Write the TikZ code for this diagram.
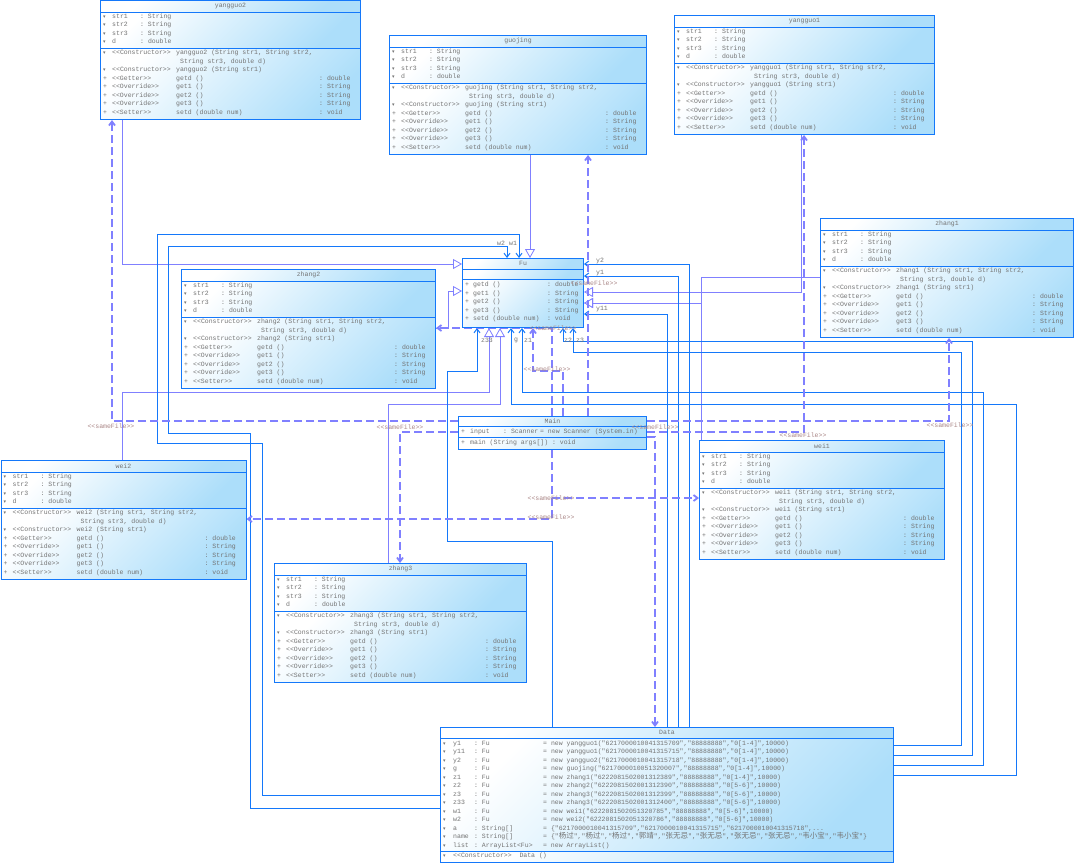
\documentclass[tikz,border=0pt]{standalone}
\usepackage{fontspec}
\setmonofont{Liberation Mono}
\newfontfamily\cjkfont{Noto Sans CJK SC}
\newfontfamily\visfont{DejaVu Sans}
\usetikzlibrary{positioning, arrows.meta, backgrounds, calc}
\pgfdeclarelayer{background}
\pgfsetlayers{background,main}
\definecolor{umlblue}{RGB}{20,120,250}
\definecolor{umlpurple}{RGB}{128,128,255}
\definecolor{umltext}{RGB}{115,115,115}
\definecolor{umlfill}{RGB}{172,222,250}
\definecolor{umlnote}{RGB}{170,135,135}
\newcommand{\classfont}{\ttfamily\fontsize{6.5}{8.5}\selectfont}
\newcommand{\pkgvis}{{\visfont\fontsize{5}{5}\selectfont ▾}}
\newcommand{\cjk}[1]{{\cjkfont\fontsize{7.5}{8.5}\selectfont #1}}
\newcommand{\classattr}[3]{\makebox[9pt][l]{#1}\makebox[28pt][l]{#2}: #3}
\newcommand{\classop}[4]{\makebox[9pt][l]{#1}\makebox[64pt][l]{#2}\makebox[\sigw pt][l]{#3}: #4}
\newcommand{\dataattr}[3]{\makebox[10pt][l]{\pkgvis}\makebox[21pt][l]{#1}\makebox[69pt][l]{: #2}#3}

\begin{document}
\begin{tikzpicture}[
        x=1pt, y=-1pt,
        classbox/.style={draw=umlblue, line width=1pt, anchor=north west, inner sep=0pt},
        section/.style={top color=white, bottom color=umlfill, shading angle=45},
        divider/.style={draw=umlblue, line width=1pt},
        classtitle/.style={font=\classfont, text=umltext, inner sep=0pt},
        classtext/.style={font=\classfont, text=umltext, inner sep=0pt, anchor=north west, align=left},
        gen/.style={draw=umlpurple, line width=0.8pt, -{Triangle[open, length=9pt, width=10pt, fill=white]}},
        assoc/.style={draw=umlblue, line width=1pt, -{Straight Barb[length=4pt, width=6pt]}},
        dep/.style={draw=umlpurple, line width=1.8pt, dash pattern=on 8pt off 4pt, -{Straight Barb[length=4pt, width=6pt]}},
        role/.style={font=\classfont, text=umltext, inner sep=0pt},
        samefile/.style={font=\classfont, text=umlnote, inner sep=0pt}
        ]

        \begin{pgfonlayer}{background}
            \fill[white] (0,0) rectangle (1074,863);
        \end{pgfonlayer}
        \useasboundingbox (0,0) rectangle (1074,863);

        % Subclasses of Fu
        \foreach \cname/\cx/\cy/\cw in {yangguo2/100/0/260, guojing/389/35/257, yangguo1/674/15/260,
                zhang1/820/218/253, zhang2/181/269/254, zhang3/274/563/252, wei1/699/440/245, wei2/0.5/460/245} {
            \pgfmathsetmacro{\sigw}{\cw-117}
            \shade[section] (\cx,\cy) rectangle ++(\cw,12);
            \shade[section] (\cx,{\cy+12}) rectangle ++(\cw,36);
            \shade[section] (\cx,{\cy+48}) rectangle ++(\cw,71);
            \node[classbox, minimum width=\cw pt, minimum height=119pt] (\cname) at (\cx,\cy) {};
            \draw[divider] (\cx,{\cy+12}) -- ++(\cw,0);
            \draw[divider] (\cx,{\cy+48}) -- ++(\cw,0);
            \node[classtitle] (\cname-title) at ([yshift=-6pt]\cname.north) {\cname};
            \node[classtext] (\cname-attrs) at ([xshift=3pt, yshift=-13.5pt]\cname.north west) {
                \classattr{\pkgvis}{str1}{String}\\
                \classattr{\pkgvis}{str2}{String}\\
                \classattr{\pkgvis}{str3}{String}\\
                \classattr{\pkgvis}{d}{double}};
            \node[classtext] (\cname-ops) at ([xshift=3pt, yshift=-50pt]\cname.north west) {
                \makebox[9pt][l]{\pkgvis}\makebox[64pt][l]{<<Constructor>>}\cname{} (String str1, String str2,\\
                \hspace*{77pt}String str3, double d)\\
                \makebox[9pt][l]{\pkgvis}\makebox[64pt][l]{<<Constructor>>}\cname{} (String str1)\\
                \classop{+}{<<Getter>>}{getd ()}{double}\\
                \classop{+}{<<Override>>}{get1 ()}{String}\\
                \classop{+}{<<Override>>}{get2 ()}{String}\\
                \classop{+}{<<Override>>}{get3 ()}{String}\\
                \classop{+}{<<Setter>>}{setd (double num)}{void}};
        }

        % Fu
        \shade[section] (462,258) rectangle ++(121,11);
        \shade[section] (462,269) rectangle ++(121,10);
        \shade[section] (462,279) rectangle ++(121,48);
        \node[classbox, minimum width=121pt, minimum height=69pt] (Fu) at (462,258) {};
        \draw[divider] (462,269) -- ++(121,0);
        \draw[divider] (462,279) -- ++(121,0);
        \node[classtitle] (Fu-title) at ([yshift=-5.5pt]Fu.north) {Fu};
        \node[classtext] (Fu-ops) at ([xshift=3pt, yshift=-24pt]Fu.north west) {
            \makebox[8pt][l]{+}\makebox[74pt][l]{getd ()}: double\\
            \makebox[8pt][l]{+}\makebox[74pt][l]{get1 ()}: String\\
            \makebox[8pt][l]{+}\makebox[74pt][l]{get2 ()}: String\\
            \makebox[8pt][l]{+}\makebox[74pt][l]{get3 ()}: String\\
            \makebox[8pt][l]{+}\makebox[74pt][l]{setd (double num)}: void};

        % Main
        \shade[section] (458,416) rectangle ++(188,10);
        \shade[section] (458,426) rectangle ++(188,11);
        \shade[section] (458,437) rectangle ++(188,12);
        \node[classbox, minimum width=188pt, minimum height=33pt] (Main) at (458,416) {};
        \draw[divider] (458,426) -- ++(188,0);
        \draw[divider] (458,437) -- ++(188,0);
        \node[classtitle] (Main-title) at ([yshift=-5pt]Main.north) {Main};
        \node[classtext] (Main-attrs) at ([xshift=3pt, yshift=-12.5pt]Main.north west) {
            \makebox[9pt][l]{+}\makebox[33pt][l]{input}\makebox[37pt][l]{: Scanner}= new Scanner (System.in)};
        \node[classtext] (Main-ops) at ([xshift=3pt, yshift=-24pt]Main.north west) {
            \makebox[9pt][l]{+}main (String args[]) : void};

        % Data
        \shade[section] (440,727) rectangle ++(453,11);
        \shade[section] (440,738) rectangle ++(453,113);
        \shade[section] (440,851) rectangle ++(453,11.5);
        \node[classbox, minimum width=453pt, minimum height=135pt] (Data) at (440,727) {};
        \draw[divider] (440,738) -- ++(453,0);
        \draw[divider] (440,851) -- ++(453,0);
        \node[classtitle] (Data-title) at ([yshift=-5.5pt]Data.north) {Data};
        \node[classtext] (Data-attrs) at ([xshift=3pt, yshift=-13.5pt]Data.north west) {
            \dataattr{y1}{Fu}{= new yangguo1("6217000010041315709","88888888","0[1-4]",10000)}\\
            \dataattr{y11}{Fu}{= new yangguo1("6217000010041315715","88888888","0[1-4]",10000)}\\
            \dataattr{y2}{Fu}{= new yangguo2("6217000010041315718","88888888","0[1-4]",10000)}\\
            \dataattr{g}{Fu}{= new guojing("6217000010051320007","88888888","0[1-4]",10000)}\\
            \dataattr{z1}{Fu}{= new zhang1("6222081502001312389","88888888","0[1-4]",10000)}\\
            \dataattr{z2}{Fu}{= new zhang2("6222081502001312390","88888888","0[5-6]",10000)}\\
            \dataattr{z3}{Fu}{= new zhang3("6222081502001312399","88888888","0[5-6]",10000)}\\
            \dataattr{z33}{Fu}{= new zhang3("6222081502001312400","88888888","0[5-6]",10000)}\\
            \dataattr{w1}{Fu}{= new wei1("6222081502051320785","88888888","0[5-6]",10000)}\\
            \dataattr{w2}{Fu}{= new wei2("6222081502051320786","88888888","0[5-6]",10000)}\\
            \dataattr{a}{String[]}{= \{"6217000010041315709","6217000010041315715","6217000010041315718",...}\\
            \dataattr{name}{String[]}{= \{"\cjk{杨过}","\cjk{杨过}","\cjk{杨过}","\cjk{郭靖}","\cjk{张无忌}","\cjk{张无忌}","\cjk{张无忌}","\cjk{张无忌}","\cjk{韦小宝}","\cjk{韦小宝}"\}}\\
            \dataattr{list}{ArrayList<Fu>}{= new ArrayList()}};
        \node[classtext] (Data-ops) at ([xshift=3pt, yshift=-126pt]Data.north west) {
            \makebox[10pt][l]{\pkgvis}<<Constructor>>~~Data ()};

        \begin{pgfonlayer}{background}
            % Generalizations to Fu
            \draw[gen] (yangguo2.south -| 122,0) |- (Fu.west |- 0,264);
            \draw[gen] (zhang2.east |- 0,328) -| (448,291) -- (Fu.west |- 0,291);
            \draw[gen] (guojing.south -| 530,0) -- (Fu.north -| 530,0);
            \draw[gen] (yangguo1.south -| 801,0) |- (Fu.east |- 0,292);
            \draw[gen] (zhang1.west |- 0,277) -| (701,303) -- (Fu.east |- 0,303);
            \draw[gen] (wei1.north -| 701,0) |- (Fu.east |- 0,303);
            \draw[gen] (zhang3.north -| 388,0) |- (500,404) -- (Fu.south -| 500,0);
            \draw[gen] (wei2.north -| 122,0) |- (489,392) -- (Fu.south -| 489,0);

            % Associations from Data
            \draw[assoc] (Data.north -| 667,0) |- (Fu.east |- 0,314);
            \draw[assoc] (Data.north -| 678,0) |- (Fu.east |- 0,276);
            \draw[assoc] (Data.north -| 689,0) |- (Fu.east |- 0,264);
            \draw[assoc] (Data.north -| 552,0) |- (447,541) |- (477,371) -- (Fu.south -| 477,0);
            \draw[assoc] (Data.east |- 0,775) -| (1016,404) -| (Fu.south -| 511,0);
            \draw[assoc] (Data.east |- 0,765) -| (983,392) -| (Fu.south -| 522,0);
            \draw[assoc] (Data.east |- 0,755) -| (972,341) -| (Fu.south -| 563,0);
            \draw[assoc] (Data.east |- 0,745) -| (961,352) -| (Fu.south -| 573,0);
            \draw[assoc] (Data.west |- 0,795) -| (262,443) -| (157,234) -| (Fu.north -| 519,0);
            \draw[assoc] (Data.west |- 0,808) -| (250,433) -| (168,246) -| (Fu.north -| 507,0);

            % sameFile dependencies from Main
            \draw[dep] (Main.west |- 0,421) -| (yangguo2.south -| 112,0);
            \draw[dep] (Main.west |- 0,432) -| (zhang3.north -| 400,0);
            \draw[dep] (Main.north -| 563,0) |- (533,371) -- (Fu.south -| 533,0);
            \draw[dep] (Main.north -| 552,0) |- (zhang2.east |- 0,328);
            \draw[dep] (Main.north -| 588,0) -- (guojing.south -| 588,0);
            \draw[dep] (Main.east |- 0,432) -| (yangguo1.south -| 804,0);
            \draw[dep] (Main.east |- 0,421) -| (zhang1.south -| 949,0);
            \draw[dep] (Main.east |- 0,437) -| (Data.north -| 655,0);
            \draw[dep] (Main.south -| 552,0) |- (wei1.west |- 0,498);
            \draw[dep] (Main.south -| 552,0) |- (wei2.east |- 0,519);
        \end{pgfonlayer}

        % Role names at Fu
        \node[role] (role-y2) at (600,261) {y2};
        \node[role] (role-y1) at (600,273) {y1};
        \node[role] (role-y11) at (602,309) {y11};
        \node[role] (role-w2) at (501,243) {w2};
        \node[role] (role-w1) at (513,243) {w1};
        \node[role] (role-z33) at (487,340) {z33};
        \node[role] (role-g) at (516,340) {g};
        \node[role] (role-z1) at (528,340) {z1};
        \node[role] (role-z2) at (568,340) {z2};
        \node[role] (role-z3) at (580,340) {z3};

        % Stereotype labels
        \node[samefile] (sf-yangguo2) at (111,426) {<<sameFile>>};
        \node[samefile] (sf-zhang3) at (400,427) {<<sameFile>>};
        \node[samefile] (sf-fu) at (547,369) {<<sameFile>>};
        \node[samefile] (sf-zhang2) at (553,328) {<<sameFile>>};
        \node[samefile] (sf-guojing) at (594,283) {<<sameFile>>};
        \node[samefile] (sf-data) at (655,427) {<<sameFile>>};
        \node[samefile] (sf-yangguo1) at (803,435) {<<sameFile>>};
        \node[samefile] (sf-zhang1) at (950,425) {<<sameFile>>};
        \node[samefile] (sf-wei1) at (551,498) {<<sameFile>>};
        \node[samefile] (sf-wei2) at (551,517) {<<sameFile>>};

    \end{tikzpicture}
\end{document}
